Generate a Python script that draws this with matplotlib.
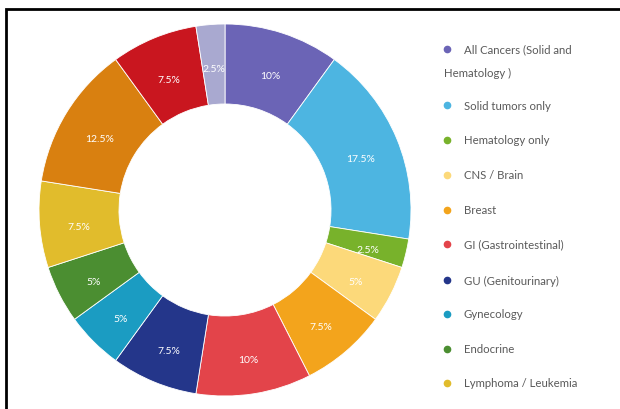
import matplotlib
matplotlib.use("Agg")
import matplotlib.pyplot as plt
from matplotlib.lines import Line2D
import numpy as np

plt.rcParams['font.family'] = ['Lato', 'DejaVu Sans']

values = [10, 17.5, 2.5, 5, 7.5, 10, 7.5, 5, 5, 7.5, 12.5, 7.5, 2.5]
pct_labels = ["10%", "17.5%", "2.5%", "5%", "7.5%", "10%", "7.5%", "5%", "5%",
              "7.5%", "12.5%", "7.5%", "2.5%"]
colors = ["#6b64b6", "#4db5e1", "#78b22b", "#fcd97a", "#f3a41c", "#e3444a",
          "#24368a", "#1b9cc2", "#4b8e31", "#e1bc2c", "#d98010", "#c9161f",
          "#a9a9d0"]
legend_labels = ["All Cancers (Solid and", "Solid tumors only", "Hematology only",
                 "CNS / Brain", "Breast", "GI (Gastrointestinal)",
                 "GU (Genitourinary)", "Gynecology", "Endocrine",
                 "Lymphoma / Leukemia"]
legend_wrap = "Hematology )"

W, H = 620, 410
fig = plt.figure(figsize=(6.2, 4.1), dpi=100)
fig.patch.set_facecolor("white")

cx, cy, R = 225, 211, 186
ax = fig.add_axes([(cx - R) / W, (H - cy - R) / H, 2 * R / W, 2 * R / H])

wedges, _ = ax.pie(values, colors=colors, startangle=90, counterclock=False,
                   radius=1.0, wedgeprops=dict(width=0.43, edgecolor="white",
                                               linewidth=0.6))
ax.set_xlim(-1, 1)
ax.set_ylim(-1, 1)
ax.set_aspect("auto")
ax.axis("off")
for w, lab in zip(wedges, pct_labels):
    ang = np.deg2rad((w.theta1 + w.theta2) / 2)
    r = 0.79
    ax.text(r * np.cos(ang), r * np.sin(ang) - 0.026, lab, ha="center",
            va="center", color="white", fontsize=7.5)

# legend
ys = [50, 106, 141, 176, 211, 245, 281, 315, 350, 384]
fs = 8.2
tc = "#5a5a5a"
for yy, lab, col in zip(ys, legend_labels, colors):
    fig.add_artist(Line2D([447 / W], [1 - yy / H], marker="o", markersize=4.5,
                          color=col, linestyle="none"))
    fig.text(464 / W, 1 - yy / H, lab, ha="left", va="center",
             fontsize=fs, color=tc)
fig.text(444 / W, 1 - 73 / H, legend_wrap, ha="left", va="center",
         fontsize=fs, color=tc)

# frame border (left and top)
fig.add_artist(Line2D([6 / W, 6 / W, 1.0], [0.0, 1 - 10 / H, 1 - 10 / H],
                      color="black", linewidth=2.0, solid_joinstyle="miter"))

fig.savefig("out.png", dpi=100, facecolor="white")
